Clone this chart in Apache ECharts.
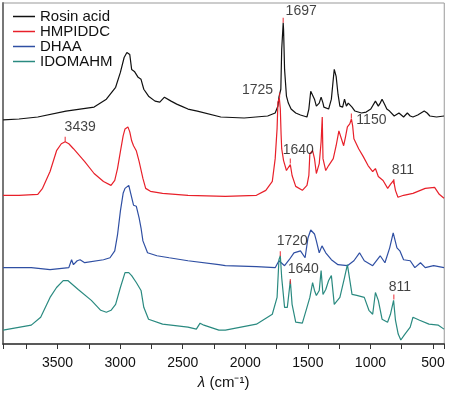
<!DOCTYPE html>
<html><head><meta charset="utf-8">
<script src="https://cdn.jsdelivr.net/npm/echarts@6/dist/echarts.min.js"></script>
<style>html,body{margin:0;padding:0;background:#fff}#c{width:474px;height:395px}</style>
</head><body><div id="c"></div>
<script>
// Offset FTIR spectra, [wavenumber (cm-1), stacked intensity (a.u.)]
const seriesNames = ['Rosin acid', 'HMPIDDC', 'DHAA', 'IDOMAHM'];
const seriesColors = ['#111111', '#e8202a', '#2f4fa3', '#2a8a80'];

const rosinAcid = [[3935,226],[3808,227],[3658,229],[3433,235],[3208,239],[3110,247],[3036,259],[2998,274],[2968,289],[2946,294],[2931,296],[2923,292],[2908,277],[2886,275],[2856,269],[2833,267],[2811,257],[2773,250],[2721,245],[2683,244],[2646,249],[2593,245],[2548,242],[2511,240],[2458,237],[2383,235],[2196,229],[2009,228],[1821,230],[1761,233],[1739,240],[1731,249],[1716,257],[1709,297],[1697,324],[1694,317],[1686,277],[1671,250],[1656,243],[1634,237],[1597,233],[1559,231],[1507,229],[1492,237],[1477,255],[1462,251],[1447,247],[1432,240],[1409,243],[1394,249],[1379,243],[1372,239],[1334,237],[1312,247],[1297,267],[1289,277],[1274,270],[1259,252],[1244,240],[1222,239],[1207,247],[1192,240],[1177,243],[1162,245],[1147,239],[1124,235],[1072,233],[1034,234],[997,237],[960,245],[937,240],[922,243],[907,247],[884,241],[869,237],[847,235],[832,234],[810,230],[795,230],[772,233],[757,234],[735,229],[720,229],[705,233],[697,234],[682,230],[660,229],[622,231],[570,235],[547,233],[525,230],[472,229],[412,230]];

const hmpiddc = [[3935,150],[3808,150],[3658,151],[3620,157],[3560,174],[3508,195],[3470,202],[3439,204],[3410,202],[3373,197],[3283,184],[3208,172],[3133,164],[3073,160],[3043,165],[3021,177],[2998,194],[2976,210],[2961,217],[2938,219],[2923,214],[2908,205],[2893,200],[2871,195],[2848,184],[2818,167],[2796,157],[2758,154],[2661,152],[2458,150],[2159,149],[1911,150],[1836,155],[1784,164],[1761,187],[1746,217],[1739,244],[1728,248],[1720,237],[1714,212],[1709,197],[1694,185],[1671,175],[1656,178],[1640,181],[1626,170],[1597,159],[1544,155],[1507,160],[1492,170],[1484,192],[1477,194],[1462,195],[1447,187],[1432,172],[1409,182],[1394,204],[1385,229],[1379,187],[1357,175],[1334,180],[1297,187],[1274,200],[1252,215],[1237,214],[1214,200],[1199,209],[1184,219],[1165,222],[1152,227],[1142,220],[1132,207],[1117,209],[1094,197],[1057,189],[1019,180],[982,174],[960,177],[937,169],[899,165],[862,157],[851,157],[840,161],[815,165],[800,155],[780,148],[735,150],[660,152],[562,157],[487,158],[450,151],[412,147]];

const dhaa = [[3935,77],[3710,77],[3560,75],[3410,77],[3388,85],[3373,80],[3343,84],[3320,85],[3283,82],[3133,85],[3081,87],[3043,94],[3021,110],[2998,134],[2976,152],[2961,157],[2931,160],[2916,159],[2893,140],[2871,139],[2848,127],[2833,117],[2818,104],[2781,92],[2706,89],[2608,87],[2458,84],[2211,80],[2159,79],[1911,78],[1761,77],[1731,84],[1716,82],[1686,79],[1649,85],[1611,92],[1559,94],[1522,87],[1499,107],[1477,115],[1462,117],[1447,111],[1432,104],[1409,92],[1387,99],[1357,92],[1312,85],[1259,80],[1184,79],[1132,84],[1087,92],[1049,84],[982,79],[922,89],[884,82],[846,97],[818,112],[788,97],[765,94],[735,85],[682,84],[645,77],[600,82],[562,77],[495,79],[412,77]];

const idomahm = [[3935,14],[3710,19],[3635,27],[3560,47],[3508,57],[3455,64],[3418,64],[3335,55],[3230,44],[3155,34],[3110,32],[3073,34],[3036,40],[2998,57],[2961,72],[2931,72],[2908,69],[2871,62],[2833,54],[2811,37],[2773,25],[2661,20],[2458,17],[2391,15],[2361,21],[2331,19],[2211,14],[2159,14],[1911,20],[1784,30],[1746,47],[1731,85],[1720,89],[1709,67],[1686,37],[1664,37],[1640,64],[1626,40],[1597,22],[1544,21],[1507,37],[1484,47],[1462,62],[1447,54],[1432,49],[1409,54],[1394,74],[1379,50],[1357,55],[1334,64],[1312,69],[1289,40],[1274,39],[1244,47],[1207,67],[1184,80],[1169,79],[1147,50],[1109,49],[1049,47],[1012,34],[982,30],[960,52],[937,44],[907,25],[863,22],[840,30],[815,44],[800,24],[778,10],[757,4],[730,9],[682,17],[660,27],[607,24],[532,20],[457,19],[412,15]];

// Peak annotations
const peakLabels = ['1697', '1725', '3439', '1640', '1150', '811', '1720', '1640', '811'];
const peakWavenumbers = [1697, 1726, 3439, 1640, 1152, 813, 1720, 1640, 813];
const peakMarkValues = [326.5, 251, 206.5, 184.5, 230, 164, 91, 63, 47.5];

const labelOffsets = [[18,-9],[-22,-5],[15,-12],[8,-11],[20,4],[9,-11],[12,-13],[13,-12],[6,-9.5]];

const FONT = 'Liberation Sans, Arial, sans-serif';
const chart = echarts.init(document.getElementById('c'), null, {renderer: 'canvas'});

const dataSets = [rosinAcid, hmpiddc, dhaa, idomahm];
const series = seriesNames.map((n, i) => ({
  name: n, type: 'line', data: dataSets[i], showSymbol: false, symbol: 'none',
  lineStyle: {color: seriesColors[i], width: 1.2}, itemStyle: {color: seriesColors[i]},
  animation: false, z: 2
}));
series.push({
  name: 'peaks', type: 'scatter', animation: false, z: 5,
  symbol: 'rect', symbolSize: [1.2, 5], itemStyle: {color: '#e8202a'},
  data: peakLabels.map((t, i) => ({
    value: [peakWavenumbers[i], peakMarkValues[i]],
    label: {show: true, position: 'inside', offset: labelOffsets[i], formatter: t,
      fontFamily: FONT, fontSize: 14, color: '#111'}
  }))
});

chart.setOption({
  animation: false,
  backgroundColor: '#fff',
  grid: {left: 3, right: 2, top: 3, bottom: 48, show: true, borderColor: '#999', borderWidth: 1},
  legend: {
    data: seriesNames, orient: 'vertical', left: 13, top: 9, padding: 0, itemGap: 0,
    itemWidth: 22, itemHeight: 1.5, icon: 'rect',
    textStyle: {fontFamily: FONT, fontSize: 15, color: '#111', lineHeight: 14}
  },
  xAxis: {
    type: 'value', inverse: true, min: 410, max: 3936, splitNumber: 7,
    axisLine: {show: true, onZero: false, lineStyle: {color: '#333', width: 1.5}},
    axisTick: {show: true, length: 5, lineStyle: {color: '#333'}},
    minorTick: {show: true, splitNumber: 2, length: 5, lineStyle: {color: '#333'}},
    splitLine: {show: false},
    axisLabel: {fontFamily: FONT, fontSize: 14, color: '#111', margin: 12,
      showMinLabel: false, showMaxLabel: false,
      formatter: v => (v % 500 === 0 ? String(v) : '')},
    name: '{i|λ} (cm⁻¹)', nameLocation: 'middle', nameGap: 31,
    nameTextStyle: {fontFamily: FONT, fontSize: 15, color: '#111',
      rich: {i: {fontFamily: FONT, fontSize: 15, fontStyle: 'italic', color: '#111'}}}
  },
  yAxis: {
    type: 'value', min: 0, max: 344,
    axisLine: {show: true, lineStyle: {color: '#777', width: 2}},
    axisTick: {show: false}, axisLabel: {show: false}, splitLine: {show: false}
  },
  series: series
});
</script>
</body></html>
